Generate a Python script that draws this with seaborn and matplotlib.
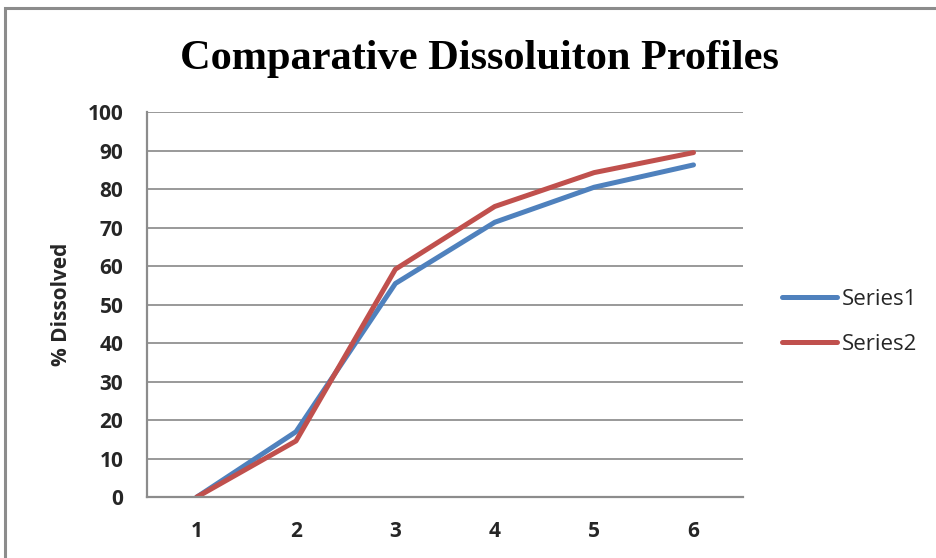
import pandas as pd
import matplotlib.pyplot as plt
import seaborn as sns
from matplotlib.patches import Rectangle

# ==========================
# Data
# ==========================

time_points = [1, 2, 3, 4, 5, 6]
series1 = [0, 17.0, 55.5, 71.4, 80.5, 86.3]
series2 = [0, 14.6, 59.2, 75.5, 84.3, 89.5]
series_names = ["Series1", "Series2"]
y_ticks = [0, 10, 20, 30, 40, 50, 60, 70, 80, 90, 100]

df = pd.DataFrame({
    "time": time_points * 2,
    "dissolved": series1 + series2,
    "series": [series_names[0]] * len(time_points) + [series_names[1]] * len(time_points),
})

# ==========================
# Plot
# ==========================

sns.set_style("white")
plt.rcParams["font.family"] = ["Open Sans", "DejaVu Sans"]

fig = plt.figure(figsize=(9.36, 5.58), dpi=100)
ax = fig.add_axes([0.157, 0.109, 0.637, 0.690])

# outer chart frame
fig.patches.append(Rectangle((5 / 936, -0.05), 1.2, 1 - 8 / 558 + 0.05,
                             transform=fig.transFigure, fill=False,
                             edgecolor="#8c8c8c", linewidth=2.2))

sns.lineplot(
    data=df,
    x="time",
    y="dissolved",
    hue="series",
    palette={"Series1": "#4F81BD", "Series2": "#C0504D"},
    linewidth=3.6,
    ax=ax,
)

ax.set_xlim(0.5, 6.5)
ax.set_ylim(0, 100)
ax.set_yticks(y_ticks)
ax.set_xticks(time_points)
ax.yaxis.grid(True, color="#999999", linewidth=1.4)
ax.set_axisbelow(True)

for side in ["top", "right"]:
    ax.spines[side].set_visible(False)
for side in ["left", "bottom"]:
    ax.spines[side].set_color("#8c8c8c")
    ax.spines[side].set_linewidth(1.6)

ax.tick_params(axis="both", length=0, labelsize=15)
ax.tick_params(axis="x", pad=17)
ax.tick_params(axis="y", pad=17)
for lbl in ax.get_xticklabels() + ax.get_yticklabels():
    lbl.set_fontweight("bold")

ax.set_xlabel("")
ax.set_ylabel("% Dissolved", fontsize=15, fontweight="bold", labelpad=11)

fig.text(0.512, 0.895, "Comparative Dissoluiton Profiles",
         family="Liberation Serif", fontweight="bold", fontsize=30.5,
         ha="center", va="center", color="black")

leg = ax.legend(loc="center left", bbox_to_anchor=(1.05, 0.455),
                borderaxespad=0, frameon=False, fontsize=16,
                handlelength=2.5, labelspacing=1.1, handletextpad=0.2)
for line in leg.get_lines():
    line.set_linewidth(3.6)

plt.savefig("out.png", dpi=100)
